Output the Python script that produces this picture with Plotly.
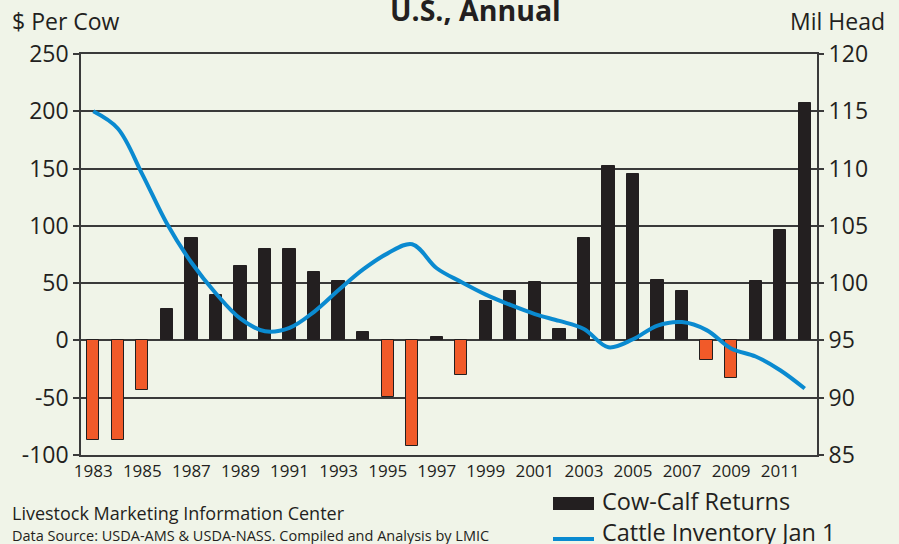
import plotly.graph_objects as go

# ---------------- data ----------------
years = list(range(1983, 2013))
returns = [-87, -87, -43, 27, 89, 40, 65, 80, 80, 60, 52, 7, -49, -92, 3,
           -30, 34, 43, 51, 10, 89, 152, 145, 53, 43, -17, -33, 52, 96, 207]
inventory = [115.0, 113.5, 109.5, 105.2, 101.8, 99.1, 96.9, 95.8, 96.1, 97.5,
             99.4, 101.2, 102.6, 103.4, 101.3, 100.1, 99.0, 98.1, 97.3, 96.7,
             96.0, 94.4, 95.1, 96.3, 96.6, 95.9, 94.3, 93.6, 92.4, 90.8]
xtick_years = list(range(1983, 2012, 2))
left_ticks = list(range(-100, 251, 50))
left_ticktext = [str(v) for v in left_ticks]  # plain hyphen minus like the reference
right_ticks = list(range(85, 121, 5))

# ---------------- style ----------------
BG = "#f0f4e8"
INK = "#231f20"
ORANGE = "#f15a29"
BLUE = "#0a8ad0"
FONT = "Open Sans"

W_, H_ = 899, 544
ML, MR, MT, MB = 81, 82, 54, 89
PW = W_ - ML - MR
PH = H_ - MT - MB


def px(p):
    return (p - ML) / PW


def py(p):
    return (H_ - MB - p) / PH


bar_colors = [ORANGE if v < 0 else INK for v in returns]

fig = go.Figure()
fig.add_trace(go.Bar(
    x=years, y=returns, width=0.5,
    marker=dict(color=bar_colors, line=dict(color=INK, width=1)),
    name="Cow-Calf Returns", showlegend=False, yaxis="y"))
fig.add_trace(go.Scatter(
    x=years, y=inventory, mode="lines",
    line=dict(color=BLUE, width=4, shape="spline", smoothing=1.0),
    name="Cattle Inventory Jan 1", showlegend=False, yaxis="y2"))

zero_pos = (0 - left_ticks[0]) / (left_ticks[-1] - left_ticks[0])
boundary_ticks = [y + 0.5 for y in years[:-1]]

fig.update_layout(
    width=W_, height=H_,
    margin=dict(l=ML, r=MR, t=MT, b=MB),
    paper_bgcolor=BG, plot_bgcolor=BG,
    font=dict(family=FONT, color=INK),
    bargap=0,
    xaxis=dict(range=[1982.5, 2012.5], tickvals=xtick_years,
               ticktext=[str(y) for y in xtick_years],
               tickfont=dict(size=17, family=FONT, color=INK),
               showgrid=False, zeroline=False, ticks="",
               showline=True, linecolor="#3a3a3a", linewidth=1.5, mirror=True),
    xaxis2=dict(overlaying="x", matches="x", range=[1982.5, 2012.5],
                anchor="free", position=zero_pos, side="bottom",
                tickvals=boundary_ticks, ticks="outside", ticklen=5,
                tickwidth=1.5, tickcolor="#3a3a3a", showticklabels=False,
                showgrid=False, zeroline=False, showline=False),
    xaxis3=dict(overlaying="x", matches="x", range=[1982.5, 2012.5],
                anchor="free", position=zero_pos, side="top",
                tickvals=boundary_ticks, ticks="outside", ticklen=5,
                tickwidth=1.5, tickcolor="#3a3a3a", showticklabels=False,
                showgrid=False, zeroline=False, showline=False),
    yaxis=dict(range=[-100, 250], tickvals=left_ticks, ticktext=left_ticktext,
               tickfont=dict(size=23, family=FONT, color=INK),
               showgrid=True, gridcolor="#3a3a3a", gridwidth=1.5,
               zeroline=False, ticks="outside", ticklen=6, tickwidth=1.5,
               tickcolor="#3a3a3a",
               showline=True, linecolor="#3a3a3a", linewidth=1.5, mirror=True),
    yaxis2=dict(range=[85, 120], tickvals=right_ticks, overlaying="y",
                side="right", tickfont=dict(size=23, family=FONT, color=INK),
                showgrid=False, zeroline=False, ticks="outside", ticklen=6,
                tickwidth=1.5, tickcolor="#3a3a3a", showline=False),
)

annotations = [
    dict(text="<b>U.S., Annual</b>", x=px(475), y=py(10), xanchor="center",
         yanchor="middle", font=dict(size=28.5, family=FONT, color=INK)),
    dict(text="$ Per Cow", x=px(10), y=py(21), xanchor="left", yanchor="middle",
         font=dict(size=23, family=FONT, color=INK)),
    dict(text="Mil Head", x=px(887), y=py(21), xanchor="right", yanchor="middle",
         font=dict(size=23, family=FONT, color=INK)),
    dict(text="Livestock Marketing Information Center", x=px(10), y=py(513),
         xanchor="left", yanchor="middle", font=dict(size=18, family=FONT, color=INK)),
    dict(text="Data Source: USDA-AMS & USDA-NASS. Compiled and Analysis by LMIC",
         x=px(10), y=py(535), xanchor="left", yanchor="middle",
         font=dict(size=14.5, family=FONT, color=INK)),
    dict(text="Cow-Calf Returns", x=px(600), y=py(501), xanchor="left",
         yanchor="middle", font=dict(size=23.5, family=FONT, color=INK)),
    dict(text="Cattle Inventory Jan 1", x=px(600), y=py(532), xanchor="left",
         yanchor="middle", font=dict(size=23.5, family=FONT, color=INK)),
]
for a in annotations:
    a.update(xref="paper", yref="paper", showarrow=False)
fig.update_layout(annotations=annotations)

fig.update_layout(shapes=[
    dict(type="rect", xref="paper", yref="paper", x0=px(553), x1=px(594),
         y0=py(510), y1=py(497), fillcolor=INK, line=dict(width=0)),
    dict(type="line", xref="paper", yref="paper", x0=px(553), x1=px(594),
         y0=py(539), y1=py(539), line=dict(color=BLUE, width=4)),
])

fig.write_html("out.html",
               config={"displayModeBar": False},
               post_script="document.body.style.margin='0';"
                           "document.body.style.background='" + BG + "';")
